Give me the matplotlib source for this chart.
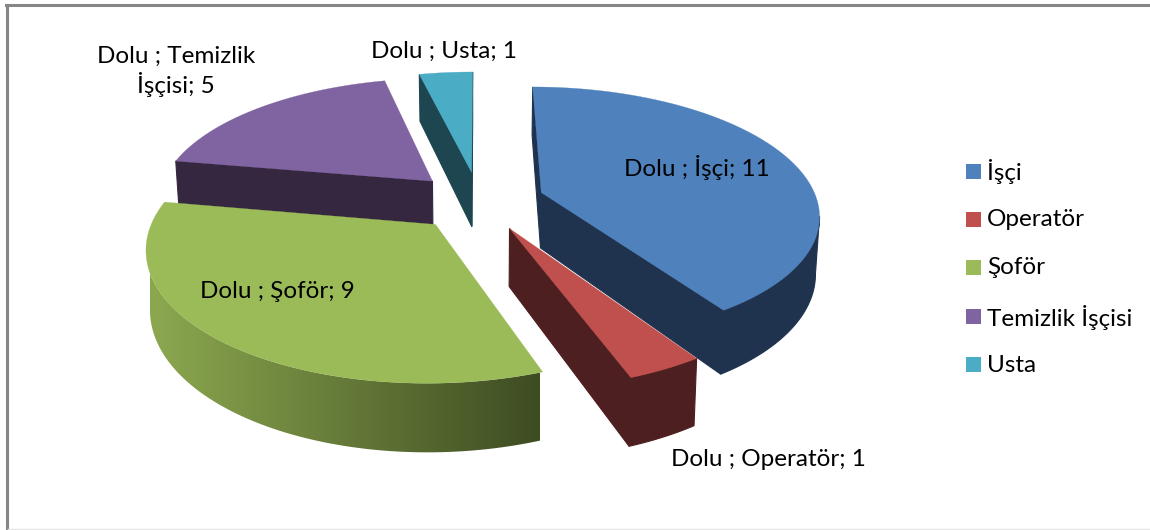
import numpy as np
import matplotlib
matplotlib.use('Agg')
import matplotlib.pyplot as plt
from matplotlib.patches import Polygon, Rectangle
from matplotlib.colors import LinearSegmentedColormap

categories = ['İşçi', 'Operatör', 'Şoför', 'Temizlik İşçisi', 'Usta']
values = [11, 1, 9, 5, 1]
series_name = 'Dolu '

top_colors = ['#4F81BD', '#C0504D', '#9BBB59', '#8064A2', '#4BACC6']
side_colors = ['#1F334F', '#4E1F20', '#3E4C22', '#35273F', '#1D4650']

# pie geometry in pixels
CX, CY = 479, 201
RX, RY = 276, 125
PERSP = 0.16
EXPLODE = 0.238
DEPTH = 56
BOTTOM_SHRINK = 0.012


def project(xp, yp, z=0.0):
    s = 1.0 / (1.0 - PERSP * yp)
    shrink = 1.0 - BOTTOM_SHRINK * z
    return CX + RX * xp * s * shrink, CY + RY * yp * s + DEPTH * s * z


def slice_points(t0, t1, z=0.0):
    mid = (t0 + t1) / 2
    ex, ey = EXPLODE * np.sin(mid), -EXPLODE * np.cos(mid)
    ts = np.linspace(t0, t1, 200)
    rim_x, rim_y = project(ex + np.sin(ts), ey - np.cos(ts), z)
    apex = project(ex, ey, z)
    return apex, rim_x, rim_y


def draw_slice(ax, t0, t1, top, side, gradient=False):
    apex, tx, ty = slice_points(t0, t1)
    apex_b, bx, by = slice_points(t0, t1, 1.0)
    # only the radial walls that face the viewer
    if tx[0] < apex[0]:
        ax.add_patch(Polygon([apex, (tx[0], ty[0]), (bx[0], by[0]), apex_b],
                             fc=side, ec=side, lw=0.8))
    if tx[-1] > apex[0]:
        ax.add_patch(Polygon([apex, (tx[-1], ty[-1]), (bx[-1], by[-1]), apex_b],
                             fc=side, ec=side, lw=0.8))
    # outer wall, front part of the rim only (where x runs right to left)
    front = np.where(np.diff(tx) < 0)[0]
    if len(front) > 0:
        a, b = front[0], front[-1] + 2
        wall = np.vstack([np.column_stack([tx[a:b], ty[a:b]]),
                          np.column_stack([bx[a:b], by[a:b]])[::-1]])
        if gradient:
            cmap = LinearSegmentedColormap.from_list('wall', ['#8CA84F', side])
            patch = Polygon(wall, fc='none', ec='none')
            ax.add_patch(patch)
            im = ax.imshow(np.linspace(0, 1, 256).reshape(1, -1), cmap=cmap,
                           extent=(150, 540, 530, 0), aspect='auto', zorder=1)
            im.set_clip_path(patch)
        else:
            ax.add_patch(Polygon(wall, fc=side, ec=side, lw=0.8))
    ax.add_patch(Polygon(np.vstack([apex, np.column_stack([tx, ty])]),
                         fc=top, ec=top, lw=0.2, zorder=1.5))


plt.rcParams['font.family'] = ['Lato', 'DejaVu Sans']
fig = plt.figure(figsize=(11.5, 5.3), dpi=100)
ax = fig.add_axes([0, 0, 1, 1])
ax.set_xlim(0, 1150)
ax.set_ylim(530, 0)
ax.axis('off')

# chart frame
ax.plot([7, 7], [5, 530], color='#868686', lw=2.2)
ax.plot([6, 1150], [5, 5], color='#868686', lw=2.2)
ax.plot([8, 1150], [529, 529], color='#E4E4E4', lw=1)

edges = np.cumsum([0] + values) / sum(values) * 2 * np.pi
for i in [4, 3, 0, 2, 1]:
    draw_slice(ax, edges[i], edges[i + 1], top_colors[i], side_colors[i],
               gradient=(i == 2))
ax.set_xlim(0, 1150)
ax.set_ylim(530, 0)

labels = [f'{series_name}; {c}; {v}' for c, v in zip(categories, values)]
labels[3] = f'{series_name}; Temizlik\n{categories[3].split()[1]}; {values[3]}'
label_pos = [(697, 168), (768, 459), (277, 291), (176, 71), (444, 51)]
for txt, (x, y) in zip(labels, label_pos):
    ax.text(x, y, txt, ha='center', va='center', fontsize=17.5, color='black',
            linespacing=1.25, zorder=5)

legend_y = [171, 219, 267, 316, 364]
for c, name, y in zip(top_colors, categories, legend_y):
    ax.add_patch(Rectangle((966, y - 7.5), 15, 15, fc=c, ec='none'))
    ax.text(987, y + 1, name, ha='left', va='center', fontsize=17.5, color='black')

fig.savefig('out.png', dpi=100)
plt.close(fig)
